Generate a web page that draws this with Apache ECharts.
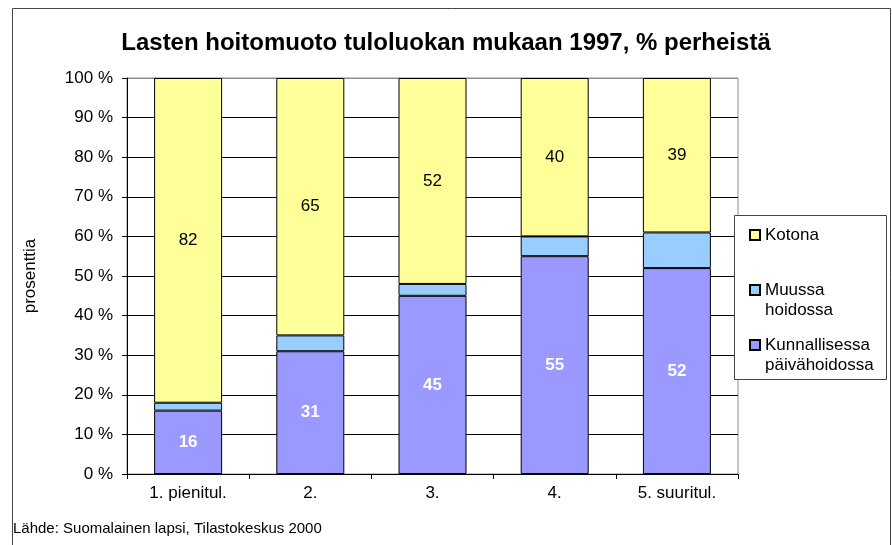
<!DOCTYPE html>
<html>
<head>
<meta charset="utf-8">
<script src="https://cdn.jsdelivr.net/npm/echarts@6/dist/echarts.min.js"></script>
<style>
  html, body { margin: 0; padding: 0; background: #fff; }
  #chart { width: 892px; height: 545px; }
</style>
</head>
<body>
<div id="chart"></div>
<script>
const categories = ["1. pienitul.", "2.", "3.", "4.", "5. suuritul."]
const kunnallisessa = [16, 31, 45, 55, 52]
const muussa = [2, 4, 3, 5, 9]
const kotona = [82, 65, 52, 40, 39]
const yTicks = [0, 10, 20, 30, 40, 50, 60, 70, 80, 90, 100]

const chart = echarts.init(document.getElementById("chart"))
const font = "Liberation Sans, Arial, sans-serif"

// split lines black, top one grey like the plot frame
const splitColors = yTicks.map(function (t) {
  return t === 100 ? "#8c8c8c" : "#000"
})

const legendNames = {
  "Kotona": "\nKotona\n",
  "Muussa hoidossa": "\nMuussa\nhoidossa",
  "Kunnallisessa päivähoidossa": "\nKunnallisessa\npäivähoidossa",
}

const option = {
  animation: false,
  textStyle: { fontFamily: font },
  title: [
    {
      text: "Lasten hoitomuoto tuloluokan mukaan 1997, % perheistä",
      left: "center",
      top: 26,
      textStyle: { fontSize: 24, fontWeight: "bold", color: "#000", fontFamily: font },
    },
    {
      text: "Lähde: Suomalainen lapsi, Tilastokeskus 2000",
      left: 8,
      top: 516,
      textStyle: { fontSize: 15, fontWeight: "normal", color: "#000", fontFamily: font },
    },
  ],
  graphic: [
    {
      type: "rect",
      z: 0,
      silent: true,
      shape: { x: 12.5, y: 8.5, width: 878, height: 560 },
      style: { fill: "none", stroke: "#444", lineWidth: 1 },
    },
    {
      type: "rect",
      z: 10,
      silent: true,
      shape: { x: 734.5, y: 215.5, width: 152, height: 164 },
      style: { fill: "#fff", stroke: "#444", lineWidth: 1 },
    },
  ],
  legend: {
    z: 20,
    orient: "vertical",
    left: 749,
    top: 205,
    padding: 0,
    itemGap: -5,
    itemWidth: 10,
    itemHeight: 10,
    icon: "rect",
    data: ["Kotona", "Muussa hoidossa", "Kunnallisessa päivähoidossa"],
    formatter: function (name) {
      return legendNames[name]
    },
    textStyle: { fontSize: 17, lineHeight: 20, color: "#000", fontFamily: font },
  },
  grid: {
    left: 127,
    right: 154,
    top: 78,
    bottom: 71,
    show: true,
    borderColor: "#8c8c8c",
    borderWidth: 1,
  },
  xAxis: {
    type: "category",
    data: categories,
    axisLine: { lineStyle: { color: "#000" } },
    axisTick: { show: true, length: 5, lineStyle: { color: "#000" } },
    axisLabel: { fontSize: 17, color: "#000", margin: 11, interval: 0 },
    splitLine: { show: false },
  },
  yAxis: {
    type: "value",
    min: 0,
    max: 100,
    interval: 10,
    name: "prosenttia",
    nameLocation: "middle",
    nameGap: 88,
    nameTextStyle: { fontSize: 17, color: "#000" },
    axisLine: { show: true, lineStyle: { color: "#000" } },
    axisTick: { show: true, length: 5, lineStyle: { color: "#000" } },
    axisLabel: {
      fontSize: 17,
      color: "#000",
      margin: 14,
      formatter: function (v) {
        return v + " %"
      },
    },
    splitLine: { show: true, lineStyle: { color: splitColors, width: 1 } },
  },
  series: [
    {
      name: "Kunnallisessa päivähoidossa",
      type: "bar",
      stack: "a",
      barWidth: 68,
      data: kunnallisessa,
      itemStyle: { color: "#9999FF", borderColor: "#000", borderWidth: 1 },
      label: {
        show: true,
        position: "inside",
        color: "#fff",
        fontWeight: "bold",
        fontSize: 17,
        textBorderWidth: 0,
      },
    },
    {
      name: "Muussa hoidossa",
      type: "bar",
      stack: "a",
      barWidth: 68,
      data: muussa,
      itemStyle: { color: "#99CCFF", borderColor: "#000", borderWidth: 1 },
    },
    {
      name: "Kotona",
      type: "bar",
      stack: "a",
      barWidth: 68,
      data: kotona,
      itemStyle: { color: "#FFFF99", borderColor: "#000", borderWidth: 1 },
      label: {
        show: true,
        position: "inside",
        color: "#000",
        fontSize: 17,
        textBorderWidth: 0,
      },
    },
  ],
}

chart.setOption(option)
</script>
</body>
</html>
